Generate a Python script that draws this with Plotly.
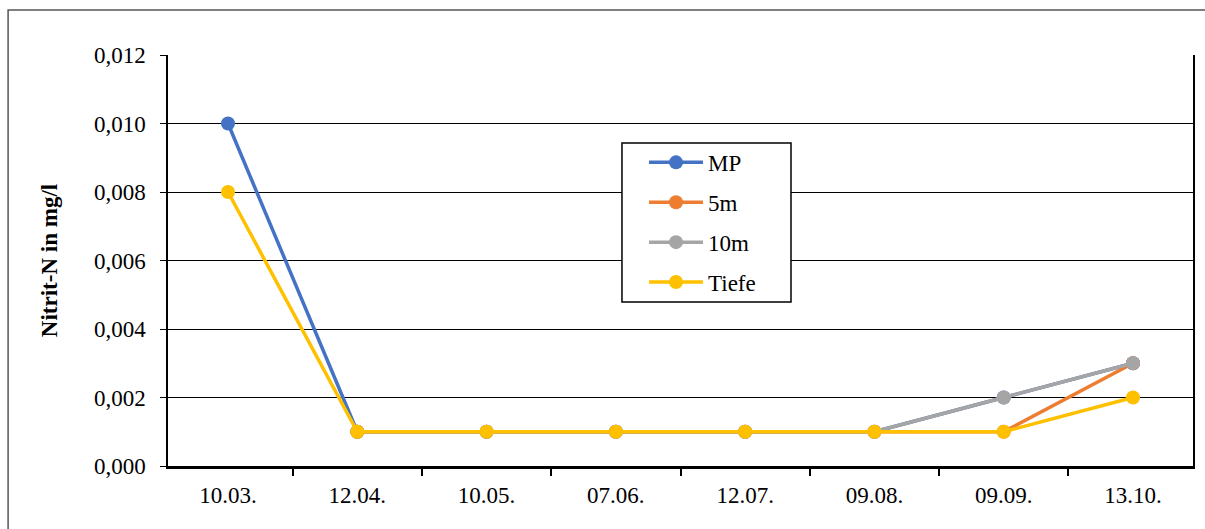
import plotly.graph_objects as go

# Nitrit-N Messwerte (mg/l)
dates = ["10.03.", "12.04.", "10.05.", "07.06.", "12.07.", "09.08.", "09.09.", "13.10."]
mp = [0.010, 0.001, 0.001, 0.001, 0.001, 0.001, 0.002, 0.003]
m5 = [None, 0.001, 0.001, 0.001, 0.001, 0.001, 0.001, 0.003]
m10 = [None, 0.001, 0.001, 0.001, 0.001, 0.001, 0.002, 0.003]
tiefe = [0.008, 0.001, 0.001, 0.001, 0.001, 0.001, 0.001, 0.002]

series = [
    ("MP", mp, "#4472C4"),
    ("5m", m5, "#ED7D31"),
    ("10m", m10, "#A5A5A5"),
    ("Tiefe", tiefe, "#FFC000"),
]

FONT = "Liberation Serif"
FS = 23

fig = go.Figure()
for name, vals, color in series:
    fig.add_trace(go.Scatter(
        x=dates, y=vals, name=name, legendgroup=name,
        mode="lines+markers",
        line=dict(color=color, width=3.5),
        marker=dict(color=color, size=14),
    ))

fig.update_layout(
    width=1205, height=529,
    margin=dict(l=168, r=12, t=55, b=63, autoexpand=False),
    paper_bgcolor="white", plot_bgcolor="white",
    font=dict(family=FONT, size=FS, color="black"),
    separators=",.",
    legend=dict(
        x=0.4644, y=0.791, xanchor="left", yanchor="top",
        bgcolor="rgba(0,0,0,0)", borderwidth=0,
        font=dict(family=FONT, size=FS),
        itemwidth=54, tracegroupgap=7,
    ),
    shapes=[
        # outer chart frame (right and bottom edges fall outside the picture)
        dict(type="rect", xref="paper", yref="paper",
             x0=-0.156, x1=1.05, y0=-0.3, y1=1.1095,
             line=dict(color="#555555", width=1.5), layer="below"),
        # legend box
        dict(type="rect", xref="paper", yref="paper",
             x0=0.4429, x1=0.6078, y0=0.399, y1=0.786,
             fillcolor="white", line=dict(color="black", width=1.5),
             layer="above"),
    ],
)

fig.update_xaxes(
    type="category", tickson="boundaries",
    ticks="outside", ticklen=7, tickwidth=1.5, tickcolor="black",
    showline=True, linecolor="black", linewidth=2.5,
    showgrid=False, tickfont=dict(family=FONT, size=FS),
    ticklabelstandoff=7, automargin=False,
)
fig.update_yaxes(
    range=[0, 0.012], dtick=0.002, tickformat=".3f",
    ticks="outside", ticklen=6, tickcolor="black",
    showline=True, linecolor="black", linewidth=1.5, mirror=True,
    showgrid=True, gridcolor="black", gridwidth=1,
    zeroline=False, tickfont=dict(family=FONT, size=FS),
    ticklabelstandoff=10, automargin=False,
    title=dict(text="<b>Nitrit-N in mg/l</b>", font=dict(family=FONT, size=FS), standoff=30),
)

# drop the default 8px page margin so the figure fills the window exactly
fig.write_html(
    "out.html",
    config={"displayModeBar": False},
    post_script="document.body.style.margin='0';document.body.style.overflow='hidden';",
)
